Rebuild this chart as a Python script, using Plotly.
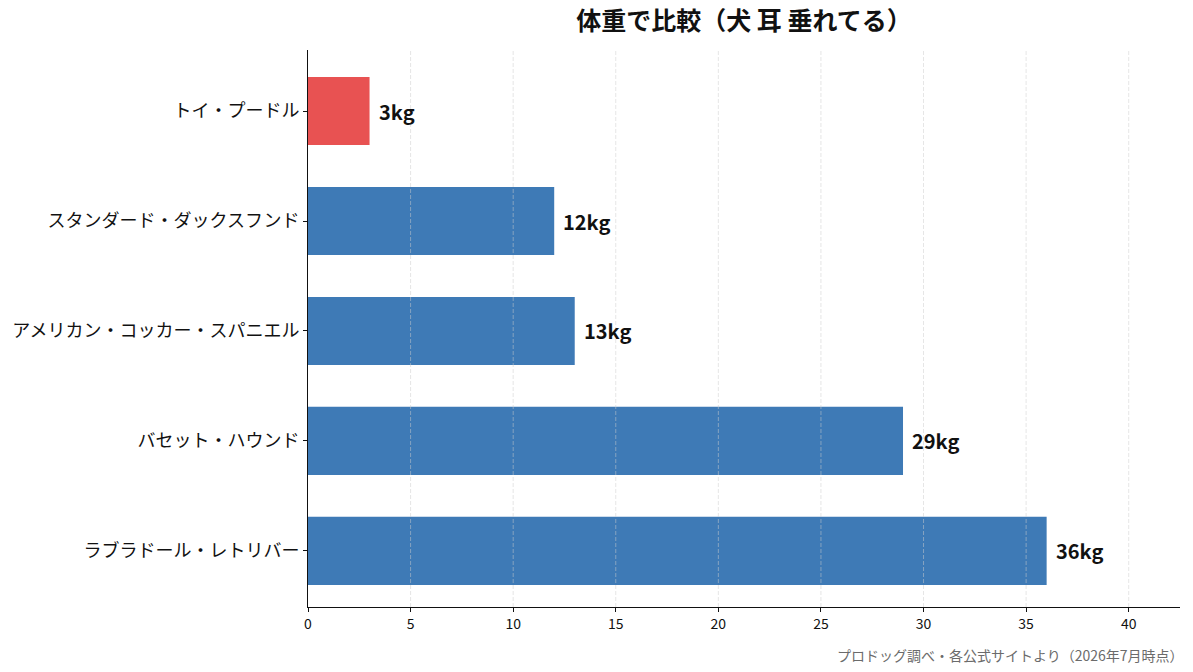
import plotly.graph_objects as go

breeds = ["トイ・プードル", "スタンダード・ダックスフンド", "アメリカン・コッカー・スパニエル", "バセット・ハウンド", "ラブラドール・レトリバー"]
weights = [3, 12, 13, 29, 36]
colors = ["#E85252", "#3E7AB6", "#3E7AB6", "#3E7AB6", "#3E7AB6"]
x_ticks = [0, 5, 10, 15, 20, 25, 30, 35, 40]

FONT = "Noto Sans CJK JP"
ypos = list(range(len(breeds)))

fig = go.Figure()
fig.add_trace(go.Bar(
    x=weights, y=ypos, orientation="h",
    marker=dict(color=colors, line=dict(width=0)),
    width=0.62,
    hoverinfo="skip",
))

# light dashed gridlines drawn above the bars
for t in x_ticks[1:]:
    fig.add_shape(
        type="line", xref="x", yref="paper", x0=t, x1=t, y0=0, y1=1,
        line=dict(color="rgba(205,205,205,0.5)", width=1, dash="4px,2px"),
        layer="above",
    )

for i, w in enumerate(weights):
    fig.add_annotation(
        x=w, y=i, text=f"<b>{w}kg</b>", showarrow=False,
        xanchor="left", yanchor="middle", xshift=7,
        font=dict(family=FONT, size=20, color="#111111"),
    )

fig.add_annotation(
    xref="paper", yref="paper", x=1.0, y=-0.086, xanchor="right", yanchor="middle",
    xshift=6,
    text="プロドッグ調べ・各公式サイトより（2026年7月時点）", showarrow=False,
    font=dict(family=FONT, size=14, color="#6b6b6b"),
)

fig.update_layout(
    width=1193, height=672,
    margin=dict(l=308, r=13, t=50, b=65),
    paper_bgcolor="white", plot_bgcolor="white",
    showlegend=False,
    title=dict(text="<b>体重で比較（犬 耳 垂れてる）</b>", x=0.5, xref="paper", xanchor="center",
               y=0.968, yanchor="middle",
               font=dict(family=FONT, size=25, color="#111111")),
    xaxis=dict(
        range=[0, 42.5], tickvals=x_ticks, ticktext=[str(t) for t in x_ticks],
        showgrid=False,
        showline=True, linecolor="#111111", linewidth=1,
        ticks="outside", ticklen=4, tickcolor="#111111",
        tickfont=dict(family=FONT, size=14, color="#111111"),
        zeroline=False, fixedrange=True, layer="above traces",
    ),
    yaxis=dict(
        range=[4.51, -0.555], tickvals=ypos, ticktext=breeds,
        showgrid=False, showline=True, linecolor="#111111", linewidth=1,
        ticks="outside", ticklen=4, tickcolor="#111111",
        tickfont=dict(family=FONT, size=18, color="#111111"),
        zeroline=False, fixedrange=True, layer="above traces",
    ),
)

fig.write_html("out.html")
